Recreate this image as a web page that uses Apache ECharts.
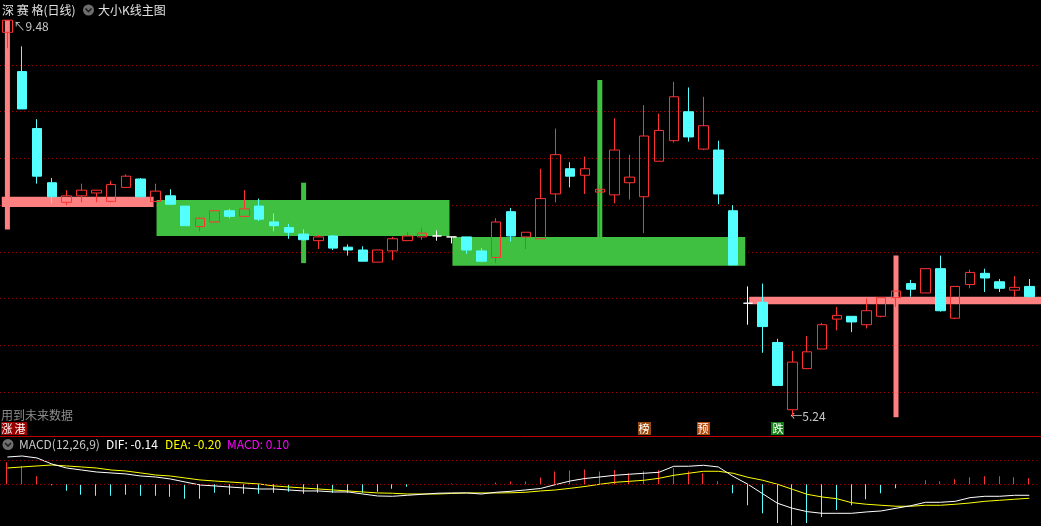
<!DOCTYPE html>
<html><head><meta charset="utf-8">
<script src="https://cdn.jsdelivr.net/npm/echarts@6/dist/echarts.min.js"></script>
<style>html,body{margin:0;padding:0;background:#000;overflow:hidden}#c{width:1041px;height:526px}</style>
</head><body><div id="c"></div>
<script>
// ---------- data ----------
const categories = Array.from({length: 70}, (_, i) => 'D' + (i + 1));
const opens  = [9.35,8.93,8.32,7.74,7.53,7.60,7.63,7.54,7.69,7.78, 7.54,7.60,7.49,7.27,7.32,7.44,7.38,7.49,7.32,7.26, 7.19,7.12,7.17,7.05,7.02,6.89,7.01,7.12,7.16,7.17, 7.16,7.16,7.01,6.94,7.43,7.16,7.14,7.62,7.89,7.82, 7.64,7.61,7.74,7.59,7.97,8.19,8.50,8.10,8.09,7.44, 6.45,6.46,6.03,5.31,5.75,5.96,6.28,6.31,6.22,6.31, 6.51,6.66,6.56,6.82,6.29,6.65,6.77,6.68,6.59,6.63];
const closes = [9.48,8.53,7.81,7.59,7.60,7.66,7.66,7.72,7.81,7.59, 7.65,7.51,7.28,7.36,7.44,7.38,7.46,7.35,7.28,7.21, 7.13,7.16,7.04,7.02,6.90,7.02,7.14,7.17,7.20,7.17, 7.16,7.02,6.90,7.32,7.17,7.21,7.57,8.04,7.81,7.89, 7.67,8.09,7.80,8.24,8.30,8.66,8.23,8.35,7.62,6.86, 6.45,6.20,5.57,5.82,5.93,6.22,6.32,6.25,6.37,6.51, 6.58,6.60,6.82,6.37,6.63,6.78,6.72,6.61,6.62,6.52];
const lows   = [9.18,8.53,7.73,7.52,7.50,7.53,7.53,7.53,7.69,7.59, 7.53,7.50,7.28,7.22,7.32,7.36,7.38,7.33,7.22,7.14, 7.12,7.03,7.02,6.96,6.90,6.89,6.91,7.12,7.13,7.12, 7.09,6.98,6.89,6.88,7.11,7.03,7.14,7.53,7.69,7.62, 7.16,7.52,7.56,7.20,7.97,8.17,8.18,8.09,7.51,6.86, 6.22,5.92,5.57,5.24,5.75,5.96,6.16,6.14,6.18,6.30, 6.41,6.52,6.56,6.36,6.28,6.61,6.57,6.57,6.52,6.52];
const highs  = [9.48,9.20,8.42,7.79,7.66,7.73,7.66,7.76,7.83,7.79, 7.73,7.67,7.49,7.37,7.44,7.46,7.66,7.57,7.41,7.30, 7.24,7.18,7.18,7.08,7.06,7.02,7.16,7.21,7.26,7.23, 7.16,7.16,7.04,7.36,7.47,7.21,7.89,8.32,7.96,8.02, 7.72,8.43,8.04,8.57,8.48,8.82,8.76,8.66,8.19,7.50, 6.63,6.66,6.07,5.94,6.10,6.24,6.41,6.31,6.50,6.51, 6.58,6.70,6.82,6.96,6.63,6.81,6.82,6.71,6.74,6.71];

// big K-line blocks (index range, price range)
const boxStart = [-0.38, 10.07, 30.05, 50.09];
const boxEnd   = [9.87, 29.85, 49.82, 69.9];
const boxLow   = [7.48, 7.17, 6.85, 6.44];
const boxHigh  = [7.59, 7.555, 7.16, 6.52];
const boxKind  = ['up', 'down', 'down', 'up'];
const stickIdx  = [0, 20, 40, 60];
const stickLow  = [7.24, 6.88, 7.16, 5.23];
const stickHigh = [9.48, 7.74, 8.84, 6.96];
const stickKind = ['up', 'down', 'down', 'up'];

// signal labels
const signalIdx  = [0, 1, 43, 47, 52];
const signalText = ['涨', '港', '榜', '预', '跌'];
const signalKind = ['zhang', 'zhang', 'bang', 'yu', 'die'];

// MACD
const difValues = [0.359,0.372,0.346,0.267,0.214,0.188,0.162,0.149,0.136,0.109, 0.096,0.070,0.030,-0.009,-0.022,-0.036,-0.049,-0.062,-0.062,-0.075, -0.088,-0.088,-0.101,-0.101,-0.128,-0.154,-0.158,-0.145,-0.132,-0.118, -0.114,-0.114,-0.128,-0.105,-0.092,-0.075,-0.055,-0.005,0.043,0.076, 0.096,0.118,0.132,0.145,0.158,0.237,0.237,0.250,0.228,0.104, 0.0,-0.125,-0.25,-0.316,-0.36,-0.382,-0.382,-0.382,-0.364,-0.351, -0.316,-0.282,-0.237,-0.237,-0.224,-0.176,-0.158,-0.158,-0.145,-0.145];
const deaValues = [0.214,0.228,0.241,0.254,0.241,0.228,0.214,0.188,0.175,0.149, 0.122,0.109,0.083,0.057,0.043,0.030,0.017,0.004,-0.022,-0.036, -0.049,-0.062,-0.075,-0.088,-0.101,-0.114,-0.118,-0.128,-0.128,-0.128, -0.121,-0.114,-0.114,-0.114,-0.112,-0.105,-0.088,-0.075,-0.053,-0.029, 0.0,0.026,0.039,0.053,0.079,0.118,0.145,0.171,0.171,0.145, 0.092,0.053,0.0,-0.066,-0.132,-0.167,-0.19,-0.242,-0.263,-0.276, -0.289,-0.289,-0.276,-0.276,-0.263,-0.246,-0.224,-0.211,-0.197,-0.184];
const macdValues = [0.29,0.24,0.105,-0.013,-0.084,-0.137,-0.15,-0.15,-0.137,-0.15, -0.15,-0.163,-0.19,-0.19,-0.11,-0.137,-0.124,-0.124,-0.11,-0.097, -0.124,-0.11,-0.11,-0.11,-0.11,-0.097,-0.058,-0.032,0,0, 0.01,0,-0.012,0.022,0.036,0.036,0.088,0.167,0.18,0.193, 0.167,0.188,0.145,0.171,0.184,0.21,0.171,0.145,0.04,-0.118, -0.276,-0.38,-0.51,-0.54,-0.51,-0.43,-0.34,-0.276,-0.197,-0.118, -0.053,0,0.053,0.04,0.066,0.092,0.105,0.105,0.092,0.079];
const macdHeader = {dif: '-0.14', dea: '-0.20', macd: '0.10'};
const macdGuide = [0, 0.316];

// ---------- styles ----------
const RED = '#ff3232', CYAN = '#54ffff', PINK = '#ff8080', GREEN = '#40c040';
const kindColor = {up: PINK, down: GREEN};
const signalBg = {zhang: '#9a0000', bang: '#9a4a10', yu: '#b44a0a', die: '#108010'};
const FONT = '"Noto Sans CJK SC", "DejaVu Sans", sans-serif';

const chart = echarts.init(document.getElementById('c'));
const N = categories.length;
const slot = 14.82;

const option = {
  backgroundColor: '#000',
  animation: false,
  grid: [
    {left: -0.7, width: slot * N, top: 18.3, height: 420.4},
    {left: -0.7, width: slot * N, top: 437, height: 89}
  ],
  xAxis: [
    {type: 'category', data: categories, gridIndex: 0, show: false, boundaryGap: true},
    {type: 'value', gridIndex: 0, min: -0.5, max: N - 0.5, show: false},
    {type: 'category', data: categories, gridIndex: 1, show: false, boundaryGap: true}
  ],
  yAxis: [
    {type: 'value', gridIndex: 0, min: 5, max: 9.5, interval: 0.5,
      axisLine: {show: false}, axisTick: {show: false}, axisLabel: {show: false},
      splitLine: {show: true, showMinLine: false, showMaxLine: false,
        lineStyle: {color: '#a00000', type: [1, 3], width: 1}}},
    {type: 'value', gridIndex: 1, min: -0.549, max: 0.622,
      axisLine: {show: false}, axisTick: {show: false}, axisLabel: {show: false}, splitLine: {show: false}}
  ],
  series: [
    {
      type: 'custom', xAxisIndex: 1, yAxisIndex: 0, z: 1, silent: true, clip: false,
      data: boxStart.map((s, i) => [s, boxEnd[i], boxLow[i], boxHigh[i]]),
      encode: {x: [0, 1], y: [2, 3]},
      renderItem: (params, api) => {
        const i = params.dataIndex;
        const p1 = api.coord([api.value(0), api.value(3)]);
        const p2 = api.coord([api.value(1), api.value(2)]);
        return {type: 'rect', shape: {x: p1[0], y: p1[1], width: p2[0] - p1[0], height: p2[1] - p1[1]},
          style: {fill: kindColor[boxKind[i]]}};
      }
    },
    {
      type: 'custom', xAxisIndex: 1, yAxisIndex: 0, z: 1, silent: true, clip: false,
      data: stickIdx.map((s, i) => [s, stickLow[i], stickHigh[i]]),
      encode: {x: 0, y: [1, 2]},
      renderItem: (params, api) => {
        const i = params.dataIndex;
        const p1 = api.coord([api.value(0), api.value(2)]);
        const p2 = api.coord([api.value(0), api.value(1)]);
        return {type: 'rect', shape: {x: p1[0] - 2.5, y: p1[1], width: 5, height: p2[1] - p1[1]},
          style: {fill: kindColor[stickKind[i]]}};
      }
    },
    {
      type: 'candlestick', xAxisIndex: 0, yAxisIndex: 0, z: 3, barWidth: 10,
      data: categories.map((_, i) => [opens[i], closes[i], lows[i], highs[i]]),
      itemStyle: {color: 'rgba(0,0,0,0)', color0: CYAN, borderColor: RED, borderColor0: CYAN,
        borderColorDoji: '#ffffff', borderWidth: 1}
    },
    {
      type: 'custom', xAxisIndex: 2, yAxisIndex: 1, z: 2, silent: true,
      data: macdValues.map((v, i) => [i, v]),
      encode: {x: 0, y: 1},
      renderItem: (params, api) => {
        const v = api.value(1);
        const p = api.coord([api.value(0), v]);
        const z0 = api.coord([api.value(0), 0]);
        const x = Math.round(p[0]) - 1;
        const y1 = Math.min(p[1], z0[1]), y2 = Math.max(p[1], z0[1]);
        return {type: 'rect', shape: {x: x, y: y1, width: 1, height: Math.max(y2 - y1, 0)},
          style: {fill: v >= 0 ? RED : CYAN}};
      }
    },
    {
      type: 'line', xAxisIndex: 2, yAxisIndex: 1, data: difValues, symbol: 'none', z: 4,
      lineStyle: {color: '#ffffff', width: 1},
      markLine: {silent: true, symbol: 'none', label: {show: false}, animation: false,
        lineStyle: {color: '#a00000', type: [1, 3], width: 1},
        data: macdGuide.map(v => ({yAxis: v}))}
    },
    {
      type: 'line', xAxisIndex: 2, yAxisIndex: 1, data: deaValues, symbol: 'none', z: 3,
      lineStyle: {color: '#ffff00', width: 1}
    }
  ]
};
chart.setOption(option);

// ---------- texts / annotations ----------
const g = [];
function txt(x, y, t, fill, size, extra) {
  g.push(Object.assign({type: 'text', x: x, y: y, silent: true,
    style: {text: t, fill: fill, font: (size || 12) + 'px ' + FONT, textVerticalAlign: 'middle', verticalAlign: 'middle'}}, extra || {}));
}
function icon(cx, cy) {
  g.push({type: 'circle', shape: {cx: cx, cy: cy, r: 5.5}, style: {fill: '#6e6e6e'}, silent: true});
  g.push({type: 'polyline', shape: {points: [[cx - 3, cy - 1.5], [cx, cy + 1.5], [cx + 3, cy - 1.5]]},
    style: {stroke: '#1e1e1e', lineWidth: 1.6, fill: null}, silent: true});
}
txt(2, 10, '深 赛 格(日线)', '#e0e0e0', 12);
icon(88.5, 10);
txt(98, 10, '大小K线主图', '#e0e0e0', 12);
txt(1, 415, '用到未来数据', '#8c8c8c', 12);

// high / low markers
let hi = 0, lo = 0;
highs.forEach((v, i) => { if (v > highs[hi]) hi = i; });
lows.forEach((v, i) => { if (v < lows[lo]) lo = i; });
const ph = chart.convertToPixel({xAxisIndex: 0, yAxisIndex: 0}, [hi, highs[hi]]);
const pl = chart.convertToPixel({xAxisIndex: 0, yAxisIndex: 0}, [lo, lows[lo]]);
txt(ph[0] + 6, ph[1] + 6, '↖' + highs[hi].toFixed(2), '#c8c8c8', 12);
txt(pl[0] - 2, pl[1], '←' + lows[lo].toFixed(2), '#c8c8c8', 12);

// signal labels
signalIdx.forEach((idx, k) => {
  const x = chart.convertToPixel({xAxisIndex: 0}, idx) - (idx === 1 ? 2 : 0);
  g.push({type: 'rect', shape: {x: Math.round(x - 6.5), y: 422, width: 13, height: 13},
    style: {fill: signalBg[signalKind[k]]}, silent: true});
  g.push({type: 'text', x: Math.round(x), y: 428.5, silent: true,
    style: {text: signalText[k], fill: '#ffffff', font: '11px ' + FONT, align: 'center', verticalAlign: 'middle', textAlign: 'center', textVerticalAlign: 'middle'}});
});

// separator
g.push({type: 'line', shape: {x1: 0, y1: 436.5, x2: 1041, y2: 436.5}, style: {stroke: '#c00000', lineWidth: 1}, silent: true});

// MACD header
icon(8, 444.5);
txt(19, 444.5, 'MACD(12,26,9)', '#c8c8c8', 12);
txt(106, 444.5, 'DIF: ' + macdHeader.dif, '#ffffff', 12);
txt(165, 444.5, 'DEA: ' + macdHeader.dea, '#ffff00', 12);
txt(227, 444.5, 'MACD: ' + macdHeader.macd, '#ff00ff', 12);

chart.setOption({graphic: g});
</script>
</body></html>
